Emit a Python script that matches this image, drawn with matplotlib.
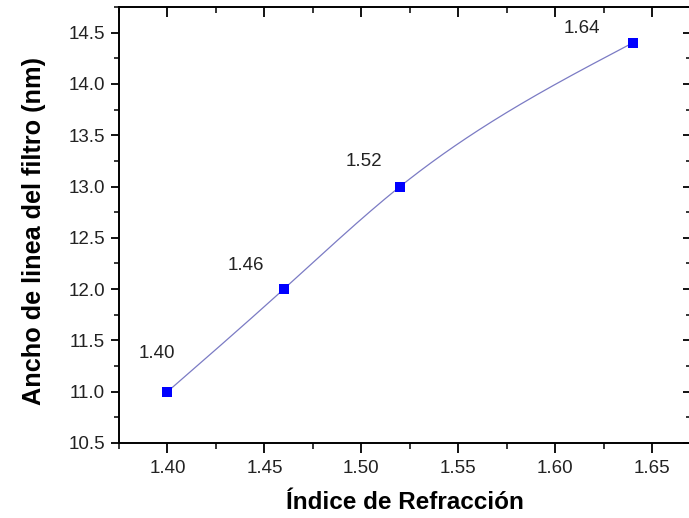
import numpy as np
import matplotlib
matplotlib.use("Agg")
import matplotlib.pyplot as plt
from matplotlib.ticker import MultipleLocator, FormatStrFormatter

plt.rcParams['font.family'] = ['Liberation Sans', 'DejaVu Sans']

# data
indice = np.array([1.40, 1.46, 1.52, 1.64])
ancho = np.array([11.0, 12.0, 13.0, 14.4])
etiquetas = ['1.40', '1.46', '1.52', '1.64']
# label anchor positions (data coords)
etiq_x = [1.3943, 1.4402, 1.5015, 1.614]
etiq_y = [11.377, 12.235, 13.24, 14.545]


# natural cubic spline through the points, just for drawing the smooth line
def natural_spline(x, y, xs):
    n = len(x)
    h = np.diff(x)
    A = np.zeros((n, n))
    r = np.zeros(n)
    A[0, 0] = A[-1, -1] = 1
    for i in range(1, n - 1):
        A[i, i - 1] = h[i - 1]
        A[i, i] = 2 * (h[i - 1] + h[i])
        A[i, i + 1] = h[i]
        r[i] = 3 * ((y[i + 1] - y[i]) / h[i] - (y[i] - y[i - 1]) / h[i - 1])
    c = np.linalg.solve(A, r)
    b = (y[1:] - y[:-1]) / h - h * (2 * c[:-1] + c[1:]) / 3
    d = (c[1:] - c[:-1]) / (3 * h)
    k = np.clip(np.searchsorted(x, xs) - 1, 0, n - 2)
    dx = xs - x[k]
    return y[k] + b[k] * dx + c[k] * dx**2 + d[k] * dx**3


x_curve = np.linspace(indice.min(), indice.max(), 200)
y_curve = natural_spline(indice, ancho, x_curve)

fig = plt.figure(figsize=(6.89, 5.18), dpi=100)
ax = fig.add_axes([0.1727, 0.1448, 0.830, 0.8417])

ax.plot(x_curve, y_curve, color='#7b7bc4', lw=0.9)
ax.plot(indice, ancho, 's', color='#0000ff', markersize=6.5, markeredgewidth=0)

for tx, ty, t in zip(etiq_x, etiq_y, etiquetas):
    ax.text(tx, ty, t, fontsize=13.5, ha='center', va='center', color='#222222')

ax.set_xlim(1.375, 1.670)
ax.set_ylim(10.5, 14.75)
ax.xaxis.set_major_locator(MultipleLocator(0.05))
ax.xaxis.set_minor_locator(MultipleLocator(0.025))
ax.yaxis.set_major_locator(MultipleLocator(0.5))
ax.yaxis.set_minor_locator(MultipleLocator(0.25))
ax.xaxis.set_major_formatter(FormatStrFormatter('%.2f'))
ax.yaxis.set_major_formatter(FormatStrFormatter('%.1f'))

for s in ax.spines.values():
    s.set_linewidth(1.4)

ax.tick_params(which='major', direction='out', length=6, width=1.3,
               labelsize=13.5, labelcolor='#222222', pad=4)
ax.tick_params(which='minor', direction='out', length=3.5, width=1.1)
ax.tick_params(axis='x', which='major', length=7.5, pad=5)
ax.tick_params(axis='x', which='minor', length=4)
ax.tick_params(which='both', top=True, right=True)
# top/right ticks point inward
for t in ax.xaxis.get_major_ticks() + ax.xaxis.get_minor_ticks():
    t.tick2line.set_marker(matplotlib.lines.TICKDOWN)
for t in ax.yaxis.get_major_ticks() + ax.yaxis.get_minor_ticks():
    t.tick2line.set_marker(matplotlib.lines.TICKLEFT)

ax.set_xlabel('Índice de Refracción', fontsize=17.5, fontweight='bold', labelpad=10)
ax.set_ylabel('Ancho de linea del filtro (nm)', fontsize=18.2, fontweight='bold',
              labelpad=16, y=0.487)

fig.savefig('out.png', dpi=100)
